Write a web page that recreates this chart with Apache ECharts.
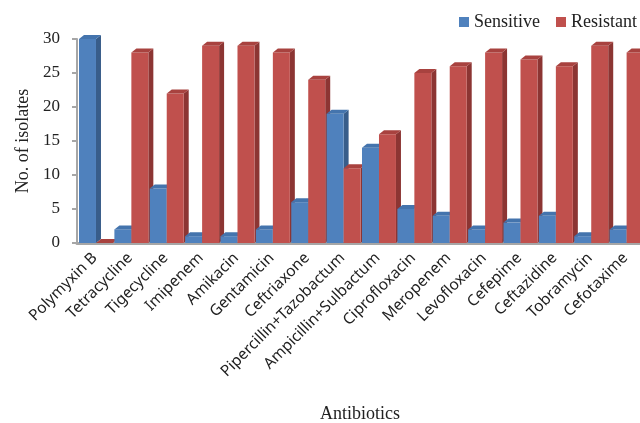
<!DOCTYPE html>
<html lang="en">
<head>
  <meta charset="UTF-8">
  <title>Antibiotic susceptibility</title>
  <script src="https://cdn.jsdelivr.net/npm/echarts@6/dist/echarts.min.js"></script>
  <style>
    * { margin: 0; padding: 0; }
    body { background: #fff; }
    #chart { width: 640px; height: 423px; }
  </style>
</head>
<body>
  <div id="chart"></div>
  <script>
    // 数据
    const antibiotics = ['Polymyxin B', 'Tetracycline', 'Tigecycline', 'Imipenem', 'Amikacin', 'Gentamicin',
      'Ceftriaxone', 'Pipercillin+Tazobactum', 'Ampicillin+Sulbactum', 'Ciprofloxacin', 'Meropenem',
      'Levofloxacin', 'Cefepime', 'Ceftazidine', 'Tobramycin', 'Cefotaxime'];
    const sensitive = [30, 2, 8, 1, 1, 2, 6, 19, 14, 5, 4, 2, 3, 4, 1, 2];
    const resistant = [0, 28, 22, 29, 29, 28, 24, 11, 16, 25, 26, 28, 27, 26, 29, 28];

    // 颜色：正面 / 顶面 / 侧面
    const blue = ['#4f81bd', '#4474ad', '#385d8a'];
    const red = ['#c0504d', '#a8423f', '#8c3533'];

    // 伪3D柱子
    function makeRender(side, colors) {
      return function (params, api) {
        const i = api.value(0);
        const base = api.coord([i, 0]);
        const top = api.coord([i, api.value(1)]);
        const w = api.size([1, 0])[0];
        const bw = w * 0.48;
        const x0 = side === 0 ? base[0] - bw + 1.3 : base[0] + 1.3;
        const x1 = x0 + bw;
        const yb = base[1];
        const yt = top[1];
        const dx = 5, dy = 4;
        const z = i * 10 + side * 5;
        return {
          type: 'group',
          children: [
            {
              type: 'polygon', z2: z,
              shape: { points: [[x1, yt], [x1 + dx, yt - dy], [x1 + dx, yb - dy], [x1, yb]] },
              style: { fill: colors[2] }
            },
            {
              type: 'rect', z2: z + 1,
              shape: { x: x0, y: yt, width: bw, height: yb - yt },
              style: { fill: colors[0] }
            },
            {
              type: 'polygon', z2: z + 2,
              shape: { points: [[x0, yt], [x0 + dx, yt - dy], [x1 + dx, yt - dy], [x1, yt]] },
              style: { fill: colors[1] }
            }
          ]
        };
      };
    }

    const chart = echarts.init(document.getElementById('chart'));

    const option = {
      animation: false,
      legend: {
        data: ['Sensitive', 'Resistant'],
        left: 459,
        top: 13,
        padding: 0,
        icon: 'rect',
        itemWidth: 10,
        itemHeight: 10,
        itemGap: 16,
        textStyle: { fontFamily: 'Liberation Serif', fontSize: 18, color: '#222' }
      },
      grid: { left: 77, right: -3, top: 39, bottom: 180, outerBoundsMode: 'none' },
      xAxis: {
        type: 'category',
        data: antibiotics,
        axisLine: { lineStyle: { color: '#a6a6a6', width: 3 } },
        offset: 1.5,
        axisTick: { show: false },
        axisLabel: {
          interval: 0,
          rotate: 45,
          margin: 11,
          fontFamily: 'Noto Sans',
          fontSize: 15.5,
          color: '#222'
        },
        name: 'Antibiotics',
        nameLocation: 'middle',
        nameGap: 161,
        nameTextStyle: { fontFamily: 'Liberation Serif', fontSize: 18, color: '#222' }
      },
      yAxis: {
        type: 'value',
        min: 0,
        max: 30,
        interval: 5,
        axisLine: { show: true, lineStyle: { color: '#a6a6a6', width: 2 } },
        axisTick: { show: true, length: 5, lineStyle: { color: '#a6a6a6', width: 2 } },
        splitLine: { show: false },
        axisLabel: { margin: 17, fontFamily: 'Liberation Serif', fontSize: 17, color: '#222' },
        name: 'No. of isolates',
        nameLocation: 'middle',
        nameRotate: 90,
        nameGap: 44,
        nameTextStyle: { fontFamily: 'Liberation Serif', fontSize: 18, color: '#222' }
      },
      series: [
        {
          name: 'Sensitive',
          type: 'custom',
          itemStyle: { color: blue[0] },
          encode: { x: 0, y: 1 },
          renderItem: makeRender(0, blue),
          data: sensitive.map((v, i) => [i, v])
        },
        {
          name: 'Resistant',
          type: 'custom',
          itemStyle: { color: red[0] },
          encode: { x: 0, y: 1 },
          renderItem: makeRender(1, red),
          data: resistant.map((v, i) => [i, v])
        }
      ]
    };

    chart.setOption(option);
  </script>
</body>
</html>
